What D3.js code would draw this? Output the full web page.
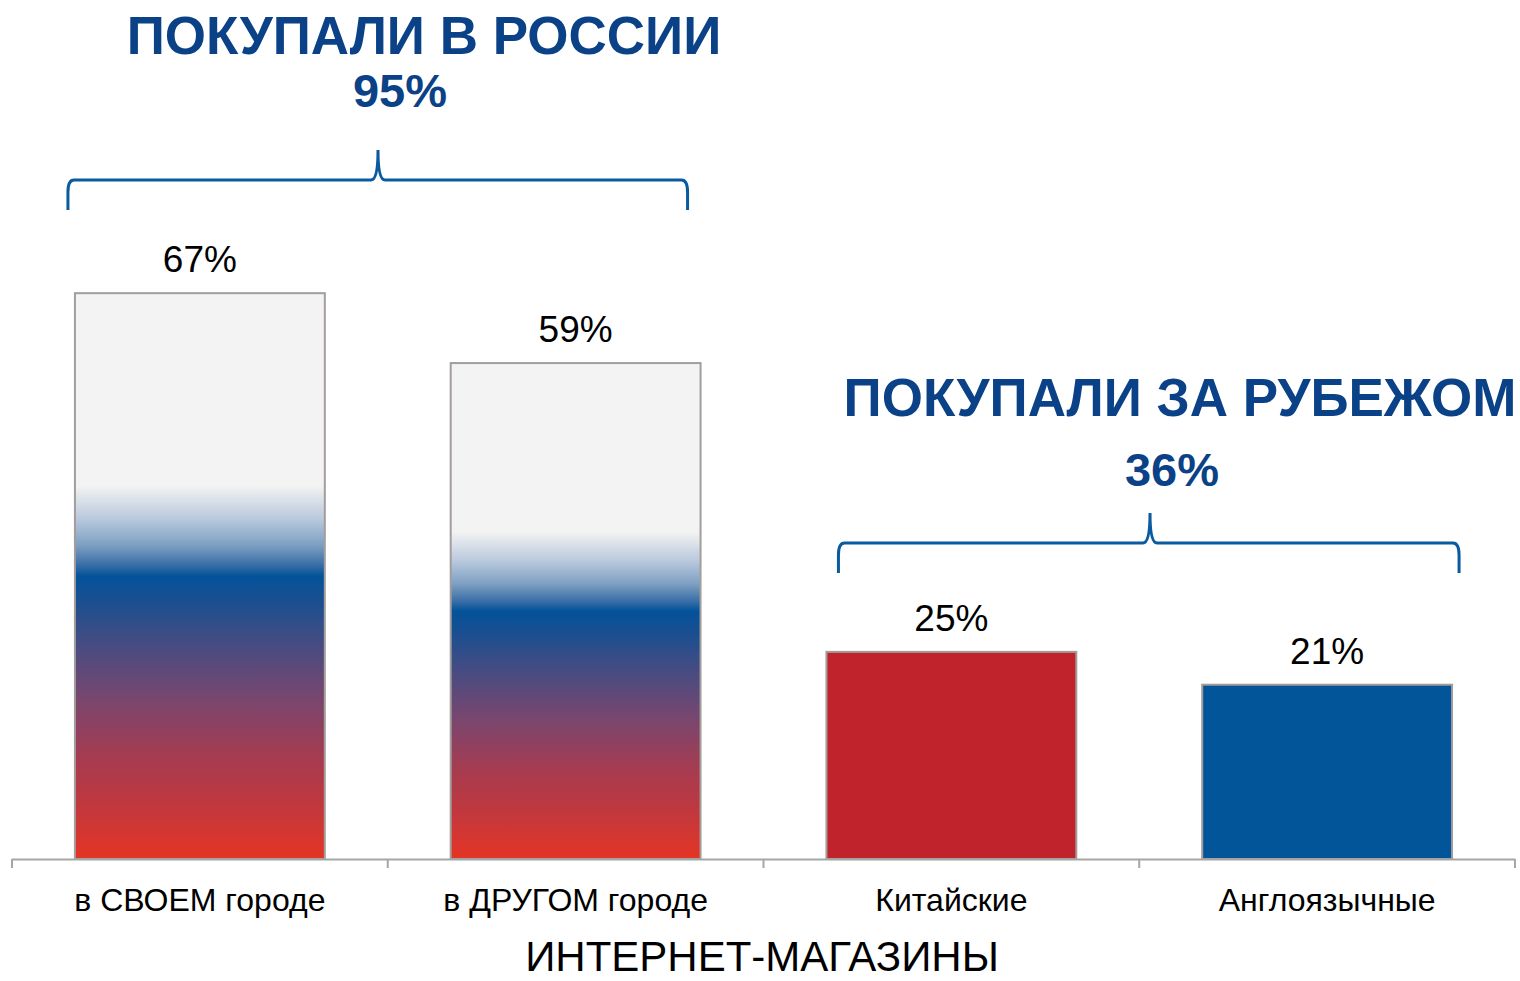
<!DOCTYPE html>
<html><head><meta charset="utf-8">
<script src="https://cdn.jsdelivr.net/npm/d3@7"></script>
<style>
html,body{margin:0;padding:0;background:#fff;}
svg{display:block;font-family:"Liberation Sans",Arial,sans-serif;}
</style></head>
<body><svg id="chart" width="1520" height="981"></svg>
<script>
const categories = ["в СВОЕМ городе", "в ДРУГОМ городе", "Китайские", "Англоязычные"];
const values = [67.2, 58.9, 24.6, 20.7];
const valueLabels = ["67%", "59%", "25%", "21%"];
const groupTitles = ["ПОКУПАЛИ В РОССИИ", "ПОКУПАЛИ ЗА РУБЕЖОМ"];
const groupTotals = ["95%", "36%"];
const axisTitle = "ИНТЕРНЕТ-МАГАЗИНЫ";

const svg = d3.select("#chart");
const defs = svg.append("defs");

const gradStops = [
  [0.00, "#f3f3f3"], [0.34, "#f3f3f3"], [0.40, "#b8c8dc"], [0.445, "#7ea0c3"],
  [0.48, "#3a6fa6"], [0.50, "#03529a"], [0.545, "#1a4f90"], [0.595, "#384d87"],
  [0.65, "#564a7c"], [0.72, "#7a466e"], [0.825, "#a83b4f"], [0.895, "#bd3840"],
  [0.965, "#d8362e"], [1.00, "#e43324"]
];
const lg = defs.append("linearGradient").attr("id", "ru").attr("x1", 0).attr("y1", 0).attr("x2", 0).attr("y2", 1);
lg.selectAll("stop").data(gradStops).join("stop")
  .attr("offset", d => d[0]).attr("stop-color", d => d[1]);

const fills = ["url(#ru)", "url(#ru)", "#c1232d", "#015598"];

const x = d3.scaleBand().domain(categories).range([12, 1515]).paddingInner(0.335).paddingOuter(0.1675);
const y = d3.scaleLinear().domain([0, 100]).range([859, 17]);

// bars
svg.append("g").selectAll("rect").data(categories).join("rect")
  .attr("x", d => x(d)).attr("y", (d, i) => y(values[i]))
  .attr("width", x.bandwidth()).attr("height", (d, i) => y(0) - y(values[i]))
  .attr("fill", (d, i) => fills[i])
  .attr("stroke", "#a39d9b").attr("stroke-width", 2);

// value labels
svg.append("g").selectAll("text").data(categories).join("text")
  .attr("x", d => x(d) + x.bandwidth() / 2)
  .attr("y", (d, i) => y(values[i]) - 21)
  .attr("text-anchor", "middle").attr("font-size", 37).attr("fill", "#000")
  .text((d, i) => valueLabels[i]);

// axis
const step = x.step();
const ax = svg.append("g");
ax.append("line").attr("x1", x.range()[0]).attr("x2", x.range()[1]).attr("y1", y(0) + 0.5).attr("y2", y(0) + 0.5)
  .attr("stroke", "#a6a6a6").attr("stroke-width", 2);
ax.selectAll("line.tick").data(d3.range(categories.length + 1)).join("line").attr("class", "tick")
  .attr("x1", i => x.range()[0] + i * step).attr("x2", i => x.range()[0] + i * step)
  .attr("y1", y(0)).attr("y2", y(0) + 9).attr("stroke", "#a6a6a6").attr("stroke-width", 2);
ax.selectAll("text").data(categories).join("text")
  .attr("x", d => x(d) + x.bandwidth() / 2).attr("y", 911)
  .attr("text-anchor", "middle").attr("font-size", 32).attr("fill", "#000")
  .text(d => d);
svg.append("text").attr("x", 762).attr("y", 971).attr("text-anchor", "middle")
  .attr("font-size", 42).attr("fill", "#000").text(axisTitle);

// braces
const braceSpec = [
  { x0: x(categories[0]) - 7, x1: x(categories[1]) + x.bandwidth() - 13, mid: 378, yBase: 180, tx: 424, ty: 54, px: 400, py: 107 },
  { x0: x(categories[2]) + 12, x1: x(categories[3]) + x.bandwidth() + 7, mid: 1150, yBase: 543, tx: 1180, ty: 416, px: 1172, py: 486 }
];
function bracePath(b) {
  const p = d3.path();
  p.moveTo(b.x0, b.yBase + 30);
  p.lineTo(b.x0, b.yBase + 12);
  p.quadraticCurveTo(b.x0, b.yBase, b.x0 + 6, b.yBase);
  p.lineTo(b.mid - 7, b.yBase);
  p.quadraticCurveTo(b.mid, b.yBase, b.mid, b.yBase - 30);
  p.quadraticCurveTo(b.mid, b.yBase, b.mid + 7, b.yBase);
  p.lineTo(b.x1 - 6, b.yBase);
  p.quadraticCurveTo(b.x1, b.yBase, b.x1, b.yBase + 12);
  p.lineTo(b.x1, b.yBase + 30);
  return p.toString();
}
const bg = svg.append("g");
bg.selectAll("path").data(braceSpec).join("path")
  .attr("d", bracePath).attr("fill", "none").attr("stroke", "#0a5aa0").attr("stroke-width", 3);
bg.selectAll("text.title").data(braceSpec).join("text").attr("class", "title")
  .attr("x", d => d.tx).attr("y", d => d.ty).attr("text-anchor", "middle")
  .attr("font-size", 53).attr("font-weight", "bold").attr("fill", "#0b4287")
  .text((d, i) => groupTitles[i]);
bg.selectAll("text.total").data(braceSpec).join("text").attr("class", "total")
  .attr("x", d => d.px).attr("y", d => d.py).attr("text-anchor", "middle")
  .attr("font-size", 47).attr("font-weight", "bold").attr("fill", "#0b4287")
  .text((d, i) => groupTotals[i]);
</script></body></html>
